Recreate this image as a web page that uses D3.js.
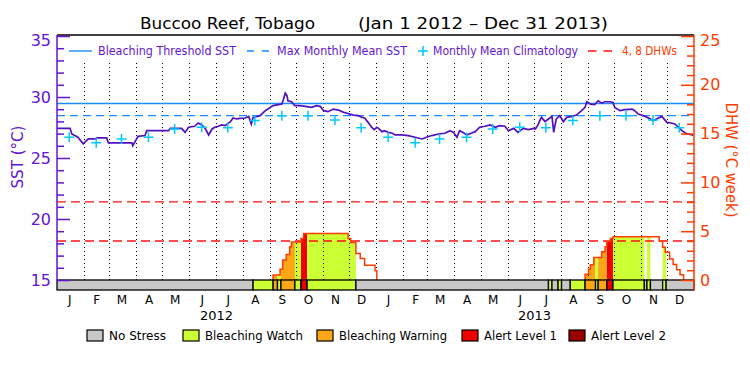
<!DOCTYPE html>
<html>
<head>
<meta charset="utf-8">
<script src="https://cdn.jsdelivr.net/npm/d3@7"></script>
<style>
body { margin: 0; background: #fff; }
svg { display: block; }
text { font-family: "DejaVu Sans", sans-serif; }
</style>
</head>
<body>
<svg id="chart" width="750" height="375"></svg>
<script>
// days counted from Jan 1 2012
var sstDay = [0,15,17,24,30,36,44,46,57,59,
  86,87,93,101,103,128,130,143,147,151,
  158,162,166,170,174,178,181,185,189,193,
  199,202,206,210,216,220,223,225,229,233,
  239,242,248,254,258,260,262,264,265,269,
  273,279,285,292,298,302,306,311,317,323,
  329,332,336,340,346,350,353,357,361,364,
  367,369,373,376,380,384,388,396,403,411,
  419,424,430,438,445,451,455,459,462,466,
  470,476,480,485,491,497,503,508,514,518,
  524,529,535,541,547,549,552,554,556,560,
  564,568,570,571,573,577,581,585,591,596,
  602,606,608,612,617,621,625,629,635,638,
  640,646,652,660,663,667,675,681,684,688,
  694,700,705,709,713,717,723,728,730];
var sstVal = [27.43,27.43,26.97,26.70,26.16,26.56,26.56,26.65,26.65,26.24,
  26.24,26.02,26.78,26.84,27.24,27.24,27.43,27.43,27.10,27.52,
  27.60,27.87,27.71,27.43,26.89,27.38,27.52,27.60,27.71,27.65,
  27.98,28.28,28.20,28.25,28.28,28.41,27.79,28.33,28.38,28.47,
  28.88,29.01,29.29,29.37,29.42,29.83,30.32,30.10,29.69,29.61,
  29.29,29.29,29.23,29.15,29.29,29.23,28.88,28.80,29.01,28.93,
  28.74,28.69,28.60,28.52,28.47,28.33,28.28,27.92,27.52,27.33,
  27.52,27.43,27.16,27.24,27.10,27.05,26.89,26.89,26.84,26.70,
  26.56,26.70,26.84,26.97,27.03,27.24,27.10,26.70,27.24,27.10,
  26.89,27.05,27.16,27.52,27.60,27.71,27.52,27.65,27.60,27.24,
  27.43,27.10,27.43,27.33,27.43,27.38,27.71,28.06,28.33,27.98,
  28.20,28.41,27.10,27.52,28.20,28.47,27.98,28.33,28.41,28.52,
  28.88,29.15,29.61,29.42,29.37,29.69,29.50,29.61,29.61,29.56,
  29.15,28.88,28.96,29.01,28.88,28.60,28.41,28.20,28.06,28.20,
  28.41,27.92,27.87,27.79,27.52,27.24,26.97,26.92,26.84];

var climatology = [26.70,26.25,26.56,26.70,27.38,27.52,27.48,28.08,28.47,28.47,28.11,27.48];
var maxMonthlyMean = 28.47;
var bleachThreshold = 29.47;

var dhwStart = [0,248,256,259,263,267,269,280,283,334,
  337,343,348,353,365,367,606,610,612,616,
  625,629,631,635,638,691,695,698,703,707,
  711,715,719];
var dhwVal = [0,0.5,1.1,2.05,2.6,3.4,3.9,4.25,4.76,4.25,
  3.84,2.72,2.2,1.5,0.95,0,0.58,1.1,1.55,2.3,
  2.9,3.4,3.95,4.25,4.42,4.0,3.35,2.85,2.15,1.6,
  1.05,0.55,0];
var dhwLines = [4, 8];

// stress level runs: 0 none, 1 watch, 2 warning, 3 alert 1, 4 alert 2
var stressStart = [0,225,248,253,257,273,280,287,343,564,568,575,579,589,606,618,621,631,638,674,677,681,695,699];
var stressLevel = [0,1,2,1,2,1,3,1,0,1,0,1,0,1,2,1,2,3,1,0,1,0,1,0];
var stressNames = ['No Stress', 'Bleaching Watch', 'Bleaching Warning', 'Alert Level 1', 'Alert Level 2'];

var monthLabels = ['J','F','M','A','M','J','J','A','S','O','N','D'];
var years = [2012, 2013];
var sstTicks = [15, 20, 25, 30, 35];
var dhwTicks = [0, 5, 10, 15, 20, 25];

var stressColors = ['#c8c8c8', '#ccff33', '#f9a619', '#ee0000', '#990000'];
var purple = '#6315d4';
var sstColor = '#5210c0';
var orange = '#ff3c00';
var blue = '#1a8cff';
var cyan = '#00c8ff';

var svg = d3.select('#chart');
var start = new Date(Date.UTC(2012, 0, 1));
var end = new Date(Date.UTC(2014, 0, 1));
var nDays = d3.utcDay.count(start, end);

var x = d3.scaleUtc().domain([start, end]).range([57, 694]);
var yS = d3.scaleLinear().domain([15, 35]).range([280, 36]);
var yD = d3.scaleLinear().domain([0, 25]).range([280, 36]);

function dayX(d) { return x(d3.utcDay.offset(start, d)); }
function dhwAt(d) { return dhwVal[d3.bisectRight(dhwStart, d) - 1]; }

var runs = stressStart.map(function (s, i) {
  return {s: s, e: i + 1 < stressStart.length ? stressStart[i + 1] : nDays, lvl: stressLevel[i]};
});

// DHW fill coloured by stress level
var area = d3.area().curve(d3.curveStepAfter)
  .x(function (p) { return dayX(p.d); })
  .y0(280)
  .y1(function (p) { return yD(p.v); });

runs.filter(function (r) { return r.lvl > 0; }).forEach(function (r) {
  var pts = d3.range(r.s, r.e + 1).map(function (d) {
    return {d: d, v: dhwAt(Math.min(d, r.e - 1))};
  });
  if (d3.max(pts, function (p) { return p.v; }) <= 0) return;
  svg.append('path').attr('d', area(pts)).attr('fill', stressColors[r.lvl]);
});

// month dividers
svg.append('g').selectAll('line')
  .data(d3.utcMonth.range(d3.utcMonth.offset(start, 1), end))
  .join('line')
  .attr('x1', function (d) { return Math.round(x(d)) + 0.5; })
  .attr('x2', function (d) { return Math.round(x(d)) + 0.5; })
  .attr('y1', 63).attr('y2', 280)
  .attr('stroke', '#000').attr('stroke-dasharray', '1,3');

// thresholds
svg.append('line').attr('x1', 57).attr('x2', 694)
  .attr('y1', yS(bleachThreshold)).attr('y2', yS(bleachThreshold))
  .attr('stroke', blue).attr('stroke-width', 1.4);
svg.append('line').attr('x1', 57).attr('x2', 694)
  .attr('y1', yS(maxMonthlyMean)).attr('y2', yS(maxMonthlyMean))
  .attr('stroke', blue).attr('stroke-width', 1.4).attr('stroke-dasharray', '8,5');

svg.append('g').selectAll('line').data(dhwLines).join('line')
  .attr('x1', 57).attr('x2', 694)
  .attr('y1', function (d) { return yD(d); }).attr('y2', function (d) { return yD(d); })
  .attr('stroke', '#ff1111').attr('stroke-width', 1.4).attr('stroke-dasharray', '9,5');

// DHW outline, one path per event
var episodes = [], cur = null;
dhwStart.forEach(function (s, i) {
  var v = dhwVal[i];
  if (v > 0) {
    if (!cur) { cur = [{d: s, v: 0}]; episodes.push(cur); }
    cur.push({d: s, v: v});
  } else if (cur) {
    cur.push({d: s, v: 0});
    cur = null;
  }
});
var stepLine = d3.line().curve(d3.curveStepAfter)
  .x(function (p) { return dayX(p.d); })
  .y(function (p) { return yD(p.v); });
svg.append('g').selectAll('path').data(episodes).join('path')
  .attr('d', stepLine).attr('fill', 'none')
  .attr('stroke', orange).attr('stroke-width', 1.5);

// SST
var sst = sstDay.map(function (d, i) { return {d: d, v: sstVal[i]}; });
svg.append('path')
  .attr('d', d3.line().x(function (p) { return dayX(p.d); }).y(function (p) { return yS(p.v); })(sst))
  .attr('fill', 'none').attr('stroke', sstColor).attr('stroke-width', 1.7);

// climatology crosses
var clim = [];
years.forEach(function (yr) {
  climatology.forEach(function (v, m) { clim.push({date: new Date(Date.UTC(yr, m, 15)), v: v}); });
});
svg.append('g').selectAll('path').data(clim).join('path')
  .attr('transform', function (c) { return 'translate(' + x(c.date) + ',' + yS(c.v) + ')'; })
  .attr('d', 'M-5,0H5M0,-5V5')
  .attr('stroke', cyan).attr('stroke-width', 1.5);

// stress bar
svg.append('g').selectAll('rect').data(runs).join('rect')
  .attr('x', function (r) { return dayX(r.s); })
  .attr('width', function (r) { return dayX(r.e) - dayX(r.s); })
  .attr('y', 280).attr('height', 10)
  .attr('fill', function (r) { return stressColors[r.lvl]; })
  .attr('stroke', '#000').attr('stroke-width', 1.3);

// frame
svg.append('line').attr('x1', 57).attr('x2', 694).attr('y1', 35).attr('y2', 35)
  .attr('stroke', '#000').attr('stroke-width', 1.3);
svg.append('line').attr('x1', 57).attr('x2', 57).attr('y1', 35).attr('y2', 280)
  .attr('stroke', purple).attr('stroke-width', 1.5);
svg.append('line').attr('x1', 694).attr('x2', 694).attr('y1', 35).attr('y2', 290)
  .attr('stroke', orange).attr('stroke-width', 1.5);

// left axis
var gl = svg.append('g').attr('transform', 'translate(57,0)')
  .call(d3.axisLeft(yS).tickValues(sstTicks).tickSizeInner(-13).tickSizeOuter(0).tickPadding(6));
gl.append('g').call(d3.axisLeft(yS).tickValues(d3.range(15, 36).filter(function (v) { return v % 5; }))
  .tickSizeInner(-7).tickSizeOuter(0).tickFormat(''));
gl.selectAll('.domain').remove();
gl.selectAll('line').attr('stroke', purple).attr('stroke-width', 1.5);
gl.selectAll('text').attr('fill', purple).attr('font-size', 16).attr('font-family', 'DejaVu Sans')
  .attr('dy', function (v) { return v === 35 ? '0.62em' : '0.32em'; });

// right axis
var gr = svg.append('g').attr('transform', 'translate(694,0)')
  .call(d3.axisRight(yD).tickValues(dhwTicks).tickSizeInner(-13).tickSizeOuter(0).tickPadding(6));
gr.append('g').call(d3.axisRight(yD).tickValues(d3.range(0, 26).filter(function (v) { return v % 5; }))
  .tickSizeInner(-7).tickSizeOuter(0).tickFormat(''));
gr.selectAll('.domain').remove();
gr.selectAll('line').attr('stroke', orange).attr('stroke-width', 1.5);
gr.selectAll('text').attr('fill', orange).attr('font-size', 16).attr('font-family', 'DejaVu Sans')
  .attr('dy', function (v) { return v === 25 ? '0.62em' : '0.32em'; });

// month axis
var mids = [];
years.forEach(function (yr) {
  monthLabels.forEach(function (m, i) { mids.push(new Date(Date.UTC(yr, i, 15))); });
});
var gb = svg.append('g').attr('transform', 'translate(0,290)')
  .call(d3.axisBottom(x).tickValues(mids).tickSize(0).tickPadding(5)
    .tickFormat(function (d) { return monthLabels[d.getUTCMonth()]; }));
gb.selectAll('.domain').remove();
gb.selectAll('text').attr('fill', '#000').attr('font-size', 12).attr('font-family', 'DejaVu Sans');

svg.append('g').selectAll('text').data(years).join('text')
  .attr('x', function (yr) { return x(new Date(Date.UTC(yr, 6, 2))); })
  .attr('y', 320).attr('text-anchor', 'middle')
  .attr('font-size', 12).attr('textLength', 33).attr('lengthAdjust', 'spacingAndGlyphs')
  .text(function (yr) { return yr; });

// titles
svg.append('text').attr('x', 140).attr('y', 28.5).attr('font-size', 16)
  .attr('textLength', 175).attr('lengthAdjust', 'spacingAndGlyphs').text('Buccoo Reef, Tobago');
svg.append('text').attr('x', 358).attr('y', 28.5).attr('font-size', 16)
  .attr('textLength', 250).attr('lengthAdjust', 'spacingAndGlyphs').text('(Jan 1 2012 \u2013 Dec 31 2013)');

svg.append('text').attr('transform', 'translate(17.5,157) rotate(-90)')
  .attr('text-anchor', 'middle').attr('dy', '0.35em').attr('font-size', 16).attr('fill', purple)
  .attr('textLength', 63).attr('lengthAdjust', 'spacingAndGlyphs').text('SST (\u00b0C)');
svg.append('text').attr('transform', 'translate(731,160) rotate(90)')
  .attr('text-anchor', 'middle').attr('dy', '0.35em').attr('font-size', 15).attr('fill', orange)
  .attr('textLength', 115).attr('lengthAdjust', 'spacingAndGlyphs').text('DHW (\u00b0C week)');

// top legend
var lg = svg.append('g').attr('font-size', 11.5);
lg.append('line').attr('x1', 69).attr('x2', 92).attr('y1', 51).attr('y2', 51)
  .attr('stroke', blue).attr('stroke-width', 1.4);
lg.append('line').attr('x1', 247).attr('x2', 269).attr('y1', 51).attr('y2', 51)
  .attr('stroke', blue).attr('stroke-width', 1.4).attr('stroke-dasharray', '7,8');
lg.append('path').attr('d', 'M418,51H428M423,46V56').attr('stroke', cyan).attr('stroke-width', 1.5);
lg.append('line').attr('x1', 588).attr('x2', 612).attr('y1', 51).attr('y2', 51)
  .attr('stroke', '#ff1111').attr('stroke-width', 1.4).attr('stroke-dasharray', '8.5,7');
[
  ['Bleaching Threshold SST', 98, 138, purple],
  ['Max Monthly Mean SST', 277, 130, purple],
  ['Monthly Mean Climatology', 433, 145, purple],
  ['4, 8 DHWs', 622, 55, orange]
].forEach(function (t) {
  lg.append('text').attr('x', t[1]).attr('y', 55).attr('fill', t[3])
    .attr('textLength', t[2]).attr('lengthAdjust', 'spacingAndGlyphs').text(t[0]);
});

// bottom legend
var boxX = [87, 183, 317, 462, 569];
var textW = [57, 98, 108, 73, 75];
var bg = svg.append('g').attr('font-size', 12);
stressNames.forEach(function (n, i) {
  bg.append('rect').attr('x', boxX[i]).attr('y', 330).attr('width', 16).attr('height', 11)
    .attr('fill', stressColors[i]).attr('stroke', '#000').attr('stroke-width', 1.2);
  bg.append('text').attr('x', boxX[i] + 22).attr('y', 340)
    .attr('textLength', textW[i]).attr('lengthAdjust', 'spacingAndGlyphs').text(n);
});
</script>
</body>
</html>
